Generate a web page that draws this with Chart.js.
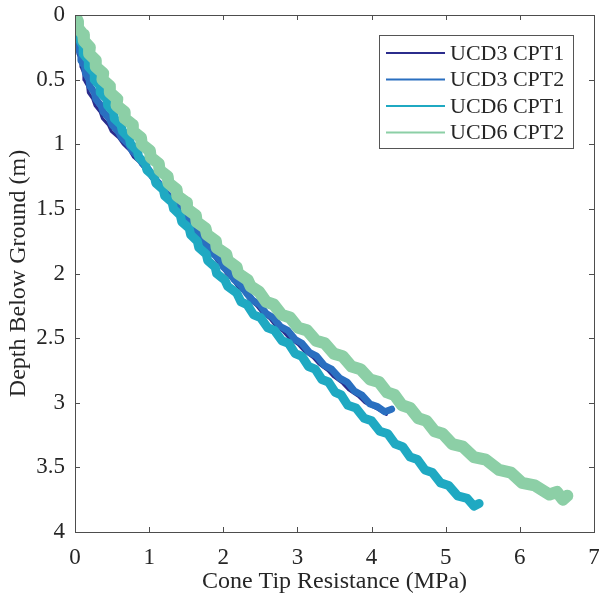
<!DOCTYPE html>
<html>
<head>
<meta charset="utf-8">
<script src="https://cdn.jsdelivr.net/npm/chart.js@4.4.1/dist/chart.umd.min.js"></script>
<style>
  html, body { margin: 0; padding: 0; background: #ffffff; }
  #wrap { width: 599px; height: 600px; }
</style>
</head>
<body>
<div id="wrap"><canvas id="c" width="599" height="600"></canvas></div>
<script>
// ---- Data (depth in m, cone tip resistance in MPa) ----
const seriesLabels = ['UCD3 CPT1', 'UCD3 CPT2', 'UCD6 CPT1', 'UCD6 CPT2'];
const xTickValues = [0, 1, 2, 3, 4, 5, 6, 7];
const yTickValues = [0, 0.5, 1, 1.5, 2, 2.5, 3, 3.5, 4];

const ucd3cpt1Depth = [0.19,0.25,0.30,0.35,0.40,0.45,0.50,0.55,0.60,0.65,0.70,0.75,0.80,0.85,0.90,0.95,1.00,1.05,1.10,1.15,1.20,1.25,1.30,1.35,1.40,1.45,1.50,1.55,1.60,1.65,1.70,1.75,1.80,1.85,1.90,1.95,2.00,2.05,2.10,2.15,2.20,2.25,2.30,2.35,2.40,2.45,2.50,2.55,2.60,2.65,2.70,2.75,2.80,2.85,2.90,2.95,3.00,3.05,3.09];
const ucd3cpt1Q     = [0.00,0.04,0.04,0.08,0.08,0.12,0.12,0.17,0.18,0.24,0.27,0.34,0.37,0.45,0.49,0.59,0.65,0.74,0.79,0.89,0.94,1.02,1.07,1.16,1.21,1.30,1.35,1.44,1.49,1.58,1.63,1.72,1.77,1.86,1.91,1.99,2.04,2.13,2.19,2.29,2.35,2.45,2.52,2.63,2.70,2.81,2.89,3.01,3.09,3.21,3.29,3.41,3.49,3.61,3.69,3.82,3.91,4.08,4.20];

const ucd3cpt2Depth = [0.17,0.20,0.25,0.30,0.35,0.40,0.45,0.50,0.55,0.60,0.65,0.70,0.75,0.80,0.85,0.90,0.95,1.00,1.05,1.10,1.15,1.20,1.25,1.30,1.35,1.40,1.45,1.50,1.55,1.60,1.65,1.70,1.75,1.80,1.85,1.90,1.95,2.00,2.05,2.10,2.15,
                       2.21,2.24,2.31,2.34,2.41,2.44,2.51,2.54,2.61,2.64,2.71,2.74,2.81,2.84,2.91,2.94,3.01,3.03,3.07,3.05];
const ucd3cpt2Q     = [0.00,0.03,0.03,0.08,0.08,0.13,0.14,0.19,0.20,0.26,0.28,0.35,0.38,0.46,0.50,0.58,0.63,0.72,0.77,0.86,0.91,1.00,1.04,1.13,1.18,1.27,1.32,1.41,1.46,1.55,1.60,1.69,1.73,1.82,1.87,1.96,2.00,2.09,2.15,2.25,2.31,
                       2.40,2.49,2.58,2.67,2.77,2.87,2.97,3.06,3.16,3.26,3.36,3.46,3.57,3.67,3.77,3.87,3.98,4.08,4.18,4.27];

const ucd6cpt1Depth = [0.00,0.05,0.10,0.15,0.20,0.25,0.30,0.35,0.40,0.45,0.50,0.55,0.60,0.65,0.70,0.75,0.80,0.85,0.90,0.95,1.00,1.05,1.10,1.15,1.20,1.25,1.30,1.35,1.40,1.45,1.50,1.55,1.60,1.65,1.70,1.75,1.80,1.85,1.90,1.95,2.00,2.05,2.10,2.15,
                       2.22,2.24,2.32,2.34,2.42,2.44,2.52,2.54,2.62,2.64,2.72,2.74,2.82,2.84,2.92,2.94,3.02,3.04,3.12,3.14,3.22,3.24,3.32,3.34,3.42,3.44,3.52,3.54,3.62,3.64,3.72,3.74,3.80,3.78];
const ucd6cpt1Q     = [0.00,0.02,0.02,0.06,0.07,0.12,0.11,0.18,0.18,0.26,0.26,0.34,0.34,0.43,0.44,0.52,0.53,0.62,0.64,0.73,0.75,0.84,0.86,0.95,0.97,1.07,1.09,1.19,1.21,1.31,1.33,1.42,1.44,1.54,1.56,1.65,1.67,1.77,1.79,1.89,1.91,2.02,2.06,2.18,
                       2.24,2.32,2.41,2.50,2.60,2.69,2.79,2.88,2.97,3.06,3.15,3.24,3.33,3.42,3.51,3.59,3.68,3.79,3.90,4.00,4.11,4.22,4.32,4.42,4.52,4.62,4.72,4.82,4.93,5.04,5.16,5.29,5.38,5.45];

const ucd6cpt2Depth = [0.00,0.05,0.10,0.15,0.20,0.25,0.30,0.35,0.40,0.45,0.50,0.55,0.60,0.65,0.70,0.75,0.80,0.85,0.90,0.95,1.00,1.05,1.10,1.15,1.20,1.25,1.30,1.35,1.40,1.45,1.50,1.55,1.60,1.65,1.70,1.75,1.80,1.85,1.90,1.95,2.00,2.05,2.10,
                       2.14,2.22,2.24,2.32,2.34,2.42,2.44,2.52,2.54,2.62,2.64,2.72,2.74,2.82,2.84,2.92,2.94,3.02,3.04,3.12,3.14,3.22,3.24,3.32,3.34,3.42,3.44,3.52,3.54,3.62,3.64,3.71,3.69,3.75,3.72];
const ucd6cpt2Q     = [0.00,0.04,0.04,0.11,0.12,0.20,0.19,0.28,0.28,0.38,0.37,0.47,0.47,0.57,0.56,0.67,0.67,0.78,0.78,0.89,0.90,1.01,1.02,1.13,1.14,1.25,1.26,1.37,1.38,1.50,1.51,1.63,1.64,1.76,1.78,1.90,1.91,2.04,2.06,2.18,2.20,2.33,2.37,
                       2.48,2.58,2.68,2.79,2.90,3.01,3.13,3.25,3.37,3.49,3.61,3.73,3.85,3.98,4.10,4.21,4.31,4.41,4.52,4.63,4.74,4.85,4.96,5.09,5.23,5.38,5.54,5.72,5.88,6.03,6.20,6.40,6.50,6.58,6.64];

// ---- Styling ----
const seriesColors = ['#2b2c8c', '#2a6fc0', '#1fa9c2', '#8ccfa6'];
const seriesWidths = [3, 7, 9, 12];
const serif = "'Liberation Serif', 'Times New Roman', serif";
const textColor = '#262626';
const axisColor = '#4d4d4d';

function pairs(depth, q) {
  const n = Math.min(depth.length, q.length);
  const out = [];
  for (let i = 0; i < n; i++) out.push({ x: q[i], y: depth[i] });
  return out;
}

const seriesData = [
  pairs(ucd3cpt1Depth, ucd3cpt1Q),
  pairs(ucd3cpt2Depth, ucd3cpt2Q),
  pairs(ucd6cpt1Depth, ucd6cpt1Q),
  pairs(ucd6cpt2Depth, ucd6cpt2Q)
];

// dataset index 0 is drawn on top in Chart.js, so list the last-plotted series first
const datasets = [3, 2, 1, 0].map(i => ({
  label: seriesLabels[i],
  data: seriesData[i],
  showLine: true,
  borderColor: seriesColors[i],
  backgroundColor: seriesColors[i],
  borderWidth: seriesWidths[i],
  borderJoinStyle: 'round',
  borderCapStyle: 'round',
  pointRadius: 0,
  pointHoverRadius: 0,
  tension: 0,
  fill: false
}));

const boxAndLegend = {
  id: 'boxAndLegend',
  afterDraw(chart) {
    const ctx = chart.ctx;
    const a = chart.chartArea;
    const xs = chart.scales.x, ys = chart.scales.y;
    ctx.save();
    ctx.strokeStyle = axisColor;
    ctx.lineWidth = 1;
    ctx.strokeRect(Math.round(a.left) + 0.5, Math.round(a.top) + 0.5,
                   Math.round(a.right - a.left), Math.round(a.bottom - a.top));
    const tl = 5;
    ctx.beginPath();
    xTickValues.forEach(v => {
      const px = Math.round(xs.getPixelForValue(v)) + 0.5;
      ctx.moveTo(px, a.bottom); ctx.lineTo(px, a.bottom - tl);
      ctx.moveTo(px, a.top); ctx.lineTo(px, a.top + tl);
    });
    yTickValues.forEach(v => {
      const py = Math.round(ys.getPixelForValue(v)) + 0.5;
      ctx.moveTo(a.left, py); ctx.lineTo(a.left + tl, py);
      ctx.moveTo(a.right, py); ctx.lineTo(a.right - tl, py);
    });
    ctx.stroke();

    // legend box inside the axes, top-right
    const bx = a.right - 215, by = a.top + 20, bw = 194, bh = 113;
    ctx.fillStyle = '#ffffff';
    ctx.fillRect(bx, by, bw, bh);
    ctx.strokeStyle = '#555555';
    ctx.strokeRect(Math.round(bx) + 0.5, Math.round(by) + 0.5, bw, bh);
    ctx.font = '22px ' + serif;
    ctx.textBaseline = 'middle';
    ctx.textAlign = 'left';
    seriesLabels.forEach((lab, i) => {
      const y = by + 18 + i * 26.5;
      ctx.strokeStyle = seriesColors[i];
      ctx.lineWidth = 2;
      ctx.beginPath();
      ctx.moveTo(bx + 7, y); ctx.lineTo(bx + 66, y);
      ctx.stroke();
      ctx.fillStyle = textColor;
      ctx.fillText(lab, bx + 71, y + 1);
    });
    ctx.restore();
  }
};

new Chart(document.getElementById('c'), {
  type: 'scatter',
  data: { datasets },
  options: {
    responsive: false,
    animation: false,
    devicePixelRatio: 1,
    layout: { padding: { top: 15, right: 5, left: 0, bottom: 0 } },
    plugins: { legend: { display: false }, tooltip: { enabled: false } },
    scales: {
      x: {
        type: 'linear', min: 0, max: 7,
        grid: { display: false, drawTicks: false },
        border: { display: false },
        ticks: { stepSize: 1, padding: 12, color: textColor, font: { family: serif, size: 23 },
                 callback: v => String(v) },
        title: { display: true, text: 'Cone Tip Resistance (MPa)', color: textColor,
                 font: { family: serif, size: 24 }, padding: { top: 0, bottom: 4 } },
        afterFit(s) { s.height = 68; s.paddingLeft = 0; s.paddingRight = 0; }
      },
      y: {
        type: 'linear', min: 0, max: 4, reverse: true,
        grid: { display: false, drawTicks: false },
        border: { display: false },
        ticks: { stepSize: 0.5, padding: 10, color: textColor, font: { family: serif, size: 23 },
                 callback: v => String(v) },
        title: { display: true, text: 'Depth Below Ground (m)', color: textColor,
                 font: { family: serif, size: 24 }, padding: { top: 4, bottom: 0 } },
        afterFit(s) { s.width = 75; s.paddingTop = 0; s.paddingBottom = 0; }
      }
    }
  },
  plugins: [boxAndLegend]
});
</script>
</body>
</html>
